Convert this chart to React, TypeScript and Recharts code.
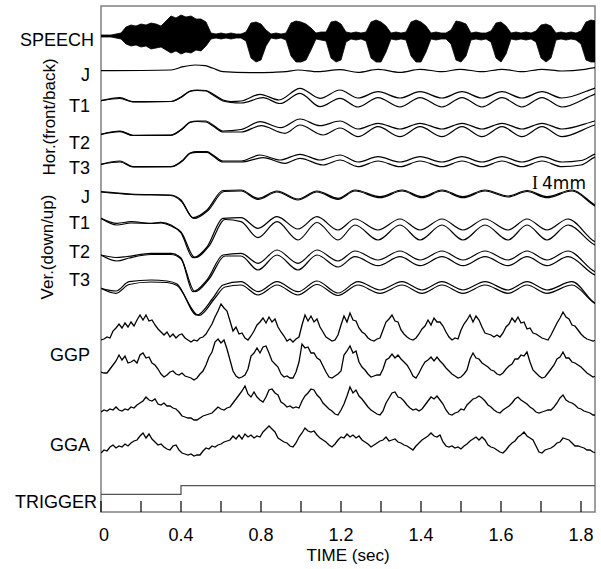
import { ComposedChart, Line, Area, XAxis, YAxis, ReferenceArea } from 'recharts';

// time axis (ms); labels copied as printed on the figure
const T_MAX = 2470;
const TICK_TIMES = [0, 200, 400, 600, 800, 1000, 1200, 1400, 1600, 1800, 2000, 2200, 2400];
const TICK_LABELS = ['0', '', '0.4', '', '0.8', '', '1.2', '', '1.4', '', '1.6', '', '1.8'];

const CHANNEL_NAMES = ['SPEECH', 'J', 'T1', 'T2', 'T3', 'J', 'T1', 'T2', 'T3', 'GGP', 'GGA', 'TRIGGER'];

// speech envelope, 25 ms steps (amplitude above / below the trace centre)
const SPEECH_STEP = 25;
const SPEECH_UP = [
  1, 1, 1, 2, 3, 9, 11, 10, 12, 11,
  13, 12, 10, 15, 20, 18, 21, 19, 20, 17,
  17, 14, 3, 2, 3, 2, 3, 2, 2, 4,
  13, 14, 12, 6, 2, 3, 2, 3, 13, 15,
  14, 12, 8, 3, 4, 4, 14, 15, 12, 4,
  3, 4, 3, 4, 14, 16, 14, 10, 3, 4,
  3, 4, 14, 16, 14, 10, 3, 4, 3, 3,
  6, 15, 14, 12, 3, 4, 3, 3, 5, 13,
  14, 10, 3, 4, 3, 4, 3, 5, 11, 12,
  10, 3, 4, 3, 4, 3, 5, 14, 16, 15,
];
const SPEECH_DN = [
  1, 1, 1, 2, 3, 8, 10, 9, 11, 10,
  13, 12, 11, 14, 17, 15, 18, 16, 17, 14,
  15, 10, 3, 2, 3, 2, 3, 2, 2, 5,
  22, 26, 24, 10, 2, 3, 2, 4, 20, 26,
  26, 24, 14, 3, 4, 5, 22, 26, 24, 6,
  3, 4, 3, 5, 22, 26, 26, 16, 3, 4,
  3, 4, 20, 26, 26, 16, 3, 4, 3, 3,
  8, 24, 26, 20, 4, 3, 4, 3, 6, 22,
  26, 18, 3, 4, 3, 4, 3, 6, 22, 26,
  22, 4, 3, 4, 3, 4, 8, 24, 26, 26,
];

// articulator traces: [time ms, displacement]
const HOR_J = [[0, 0.3], [350, 1], [410, 4.3], [470, 6], [520, 5.3], [560, 2.7], [610, -0.7], [745, -1.7], [860, -1.3], [925, -0.7], [985, 1], [1085, -0.7], [1195, 1.3], [1285, -1.3], [1385, 1.7], [1495, -1.3], [1595, 1.7], [1705, -0.7], [1795, 1.7], [1905, -0.7], [2005, 1.7], [2105, -0.7], [2205, 1.7], [2305, 0], [2420, 1.7], [2470, 3.3], [2500, 4.5]];

const HOR_T1_A = [[0, 0.3], [95, 3.3], [160, -0.7], [350, -0.5], [400, 4], [445, 10], [480, 11], [525, 10.5], [560, 7], [610, 1], [650, -0.5], [700, 0], [795, 6.7], [890, 1], [995, 12.7], [1095, 2.7], [1195, 11], [1285, 3], [1385, 9.3], [1495, 3], [1595, 9.3], [1705, 3], [1805, 9.3], [1905, 3], [2005, 9.3], [2105, 3], [2205, 9.3], [2305, 3], [2470, 13], [2500, 15]];
const HOR_T1_B = [[0, 0.3], [95, 2.5], [160, -0.8], [350, -0.5], [400, 3.5], [445, 9.5], [480, 10.5], [525, 10], [560, 6], [610, 0], [650, -1.5], [700, -2], [810, 3.3], [895, -2.5], [995, 7.7], [1095, -5.7], [1195, 2.7], [1285, -6], [1385, 3.3], [1495, -6], [1595, 3.3], [1705, -6], [1805, 3.3], [1905, -6], [2005, 3.3], [2105, -6], [2205, 3.3], [2305, -6], [2470, 7], [2500, 9]];

const HOR_T2_A = [[0, -0.3], [95, 3], [160, -1.3], [350, -1], [410, 6], [445, 12], [480, 13], [525, 13], [560, 9], [610, 3], [700, 4.5], [795, 12.3], [900, 6.3], [995, 15], [1095, 8.3], [1195, 13], [1285, 5], [1385, 10.7], [1495, 5], [1595, 10.7], [1705, 5], [1805, 10.7], [1905, 5], [2005, 10.7], [2105, 5], [2205, 10.7], [2305, 5], [2470, 13], [2500, 14.5]];
const HOR_T2_B = [[0, -0.3], [95, 2.3], [160, -1.5], [350, -1.3], [410, 5.5], [445, 11.5], [480, 12.5], [525, 12], [560, 8], [610, 2], [700, 2], [800, 8.3], [920, 0.7], [995, 9], [1110, -1], [1195, 6], [1285, -2.7], [1385, 7.3], [1495, -2.7], [1595, 7.3], [1705, -2.7], [1805, 7.3], [1905, -2.7], [2005, 7.3], [2105, -2.7], [2205, 7.3], [2305, -2.7], [2470, 9], [2500, 10.5]];

const HOR_T3_A = [[0, 0.7], [95, 4], [160, -1.7], [350, -1.7], [410, 5], [445, 12], [480, 13.3], [530, 13.3], [560, 10], [610, 4], [700, 4], [795, 10], [895, 5], [995, 10.7], [1095, 5], [1195, 10], [1285, 3], [1385, 8.3], [1495, 3], [1595, 8.3], [1705, 3], [1805, 8.3], [1905, 3], [2005, 8.3], [2105, 3], [2205, 8.3], [2305, 3], [2400, 4.5], [2470, 11], [2500, 13]];
const HOR_T3_B = [[0, 0.7], [95, 3], [160, -2], [350, -1.7], [410, 4.5], [445, 11.5], [480, 12.7], [530, 12.7], [560, 9], [610, 3], [700, 3], [810, 7.3], [920, 1.7], [995, 6.7], [1110, 0], [1195, 5], [1285, -1.7], [1385, 4], [1495, -1.7], [1595, 4], [1705, -1.7], [1805, 4], [1905, -1.7], [2005, 4], [2105, -1.7], [2205, 4], [2305, -1.7], [2400, 0], [2470, 8], [2500, 10]];

const VER_J_A = [[0, 0.3], [150, -2], [350, -3], [400, -8], [460, -25.7], [530, -18], [610, 1.5], [700, 2], [785, -6.3], [880, 1], [985, -7], [1080, 1], [1185, -6.3], [1270, 2], [1395, -4.7], [1505, 2], [1605, -4.7], [1705, 2], [1810, -4.7], [1920, 2], [2035, -4], [2130, 1.5], [2230, -4.7], [2355, 2], [2470, -13], [2500, -16]];
const VER_J_B = [[0, 0], [150, -2.5], [350, -3.5], [400, -9], [465, -26.5], [535, -18.5], [615, 0.5], [700, 1], [785, -7.5], [880, 0], [985, -8], [1080, 0], [1185, -7.3], [1270, 1], [1395, -5.7], [1505, 1], [1605, -5.7], [1705, 1], [1810, -5.7], [1920, 1], [2035, -5], [2130, 0.5], [2230, -5.7], [2355, 1], [2470, -14], [2500, -17]];

const VER_T1_A = [[0, 0.7], [80, -4.3], [150, -2.7], [250, -4.3], [300, -3.3], [350, -6], [400, -14], [460, -38.7], [530, -28], [610, 0.7], [700, 1.3], [785, -9.3], [880, 2.3], [985, -10], [1080, 2.3], [1185, -11], [1270, 0], [1385, -11], [1495, 0], [1595, -11], [1705, 0], [1810, -11], [1920, 0], [2035, -11], [2130, 0], [2230, -11], [2335, 0], [2470, -22.7], [2500, -25]];
const VER_T1_B = [[0, 0.7], [80, -6], [150, -4], [250, -4.5], [300, -4], [350, -7], [400, -13], [470, -38.7], [540, -27], [620, -0.5], [700, -2.7], [785, -18.7], [880, -2.7], [985, -21], [1080, -3.5], [1185, -21], [1270, -6], [1385, -21], [1495, -6], [1595, -21], [1705, -6], [1810, -21], [1920, -6], [2035, -21], [2130, -6], [2230, -21], [2335, -6], [2470, -26], [2500, -28]];

const VER_T2_A = [[0, 0], [75, -2.5], [130, -1.5], [250, 1.7], [350, 1.7], [400, -3], [460, -36.7], [530, -25], [610, 0], [700, 1.7], [785, -8.3], [880, 5], [985, -8.3], [1080, 5], [1185, -6], [1270, 4], [1385, -5], [1495, 4], [1595, -5], [1705, 4], [1810, -5], [1920, 4], [2035, -5], [2130, 4], [2230, -5], [2335, 4], [2470, -16.7], [2500, -19]];
const VER_T2_B = [[0, 0], [80, -6], [140, -3], [250, 0.5], [350, 0.5], [400, -4], [470, -36.7], [540, -24], [620, -1], [700, -1], [785, -15], [880, 0], [985, -15], [1080, 0], [1185, -12], [1270, -1.7], [1385, -10.7], [1495, -1.7], [1595, -10.7], [1705, -1.7], [1810, -10.7], [1920, -1.7], [2035, -10.7], [2130, -1.7], [2230, -10.7], [2335, -1.7], [2470, -20], [2500, -22]];

const VER_T3_A = [[0, -0.3], [75, -3], [140, 6.3], [250, 8], [330, 7], [380, 4], [480, -27], [560, -10], [610, 3], [700, 6.3], [785, -3.7], [880, 6.3], [985, -3.7], [1080, 7], [1185, -5], [1285, 6.3], [1395, -2], [1505, 6.3], [1605, -2], [1705, 6.3], [1810, -2], [1920, 6.3], [2035, -2], [2130, 6.3], [2230, -2], [2355, 6.3], [2470, -15.3], [2500, -18]];
const VER_T3_B = [[0, -0.3], [75, -5.3], [140, 3.5], [250, 6], [330, 5.5], [380, 2.5], [490, -27.5], [570, -10], [620, 1], [700, 3], [785, -7], [880, 3], [985, -7], [1080, 3.5], [1185, -7.5], [1285, 3], [1395, -5.3], [1505, 3], [1605, -5.3], [1705, 3], [1810, -5.3], [1920, 3], [2035, -5.3], [2130, 3], [2230, -5.3], [2355, 3], [2470, -15.5], [2500, -18]];

// EMG traces, 15 ms steps
const GG_STEP = 15;
const GGP_1 = [
  0, 1, 3, 2, 9, 12, 16, 12, 17, 13,
  18, 14, 20, 25, 20, 25, 19, 20, 15, 11,
  8, 5, 8, 3, 6, 2, 5, 6, 2, 0,
  -2, 0, -1, 2, 3, 6, 11, 16, 23, 29,
  36, 32, 29, 19, 9, 13, 6, 7, 2, 0,
  4, 9, 15, 18, 22, 17, 23, 18, 21, 13,
  8, 4, -1, 1, -2, 1, 3, 15, 25, 19,
  24, 18, 21, 13, 8, 3, 1, -1, 0, 5,
  15, 24, 18, 27, 20, 19, 12, 8, 6, 2,
  0, -1, 1, 2, 10, 18, 21, 25, 19, 18,
  10, 6, 3, 1, 0, 2, 6, 11, 14, 20,
  15, 22, 18, 18, 14, 8, 3, 0, 2, 1,
  10, 16, 20, 25, 18, 24, 20, 13, 7, 6,
  5, 3, 5, 3, 7, 13, 16, 22, 18, 23,
  17, 18, 11, 12, 7, 6, 4, 2, 1, 0,
  5, 11, 17, 22, 28, 23, 21, 15, 14, 10,
  6, 3, 1, 0, -1, 0,
];
const GGP_2 = [
  0, -1, -1, 3, 7, 11, 17, 12, 16, 9,
  10, 12, 9, 17, 19, 14, 15, 9, 7, 3,
  -2, -5, -3, 0, 1, -2, -3, -1, -4, -5,
  -6, -8, -6, -2, 1, 7, 15, 20, 30, 33,
  29, 32, 23, 12, 1, -4, -6, -5, -3, 3,
  16, 19, 24, 19, 25, 26, 19, 11, 8, 5,
  -2, -5, -4, -6, -6, 0, 10, 28, 24, 25,
  19, 19, 14, 12, 6, 0, -5, -6, -4, -2,
  1, 17, 21, 26, 19, 21, 10, 5, 2, -2,
  -5, -4, -3, -3, 3, 12, 14, 18, 14, 17,
  13, 10, 7, 2, -4, -6, -1, 5, 10, 12,
  15, 11, 15, 11, 8, 4, 1, -2, -4, -6,
  -5, -2, 2, 13, 19, 14, 13, 9, 7, 5,
  2, 1, -2, -3, -1, 3, 6, 8, 13, 13,
  17, 16, 20, 10, 2, -1, -4, -6, -5, -1,
  3, 7, 13, 15, 20, 14, 14, 10, 9, 7,
  5, 2, -1, -3, -5, -4,
];
const GGA_1 = [
  0, 2, 1, 3, 2, 5, 2, 1, 3, 2,
  5, 4, 7, 9, 11, 15, 12, 11, 13, 8,
  7, 9, 6, 6, 4, 3, 0, -4, -5, -6,
  -6, -8, -8, -6, -4, -3, -2, -1, 2, 5,
  3, 2, 4, 5, 9, 13, 17, 21, 26, 18,
  15, 20, 15, 12, 10, 15, 22, 23, 19, 17,
  10, 8, 5, 6, 4, 5, 4, 11, 16, 19,
  23, 22, 17, 14, 9, 6, 3, 1, -2, -3,
  2, 8, 16, 25, 19, 22, 16, 13, 9, 5,
  2, 0, -2, -3, 1, 9, 14, 19, 20, 15,
  14, 11, 7, 4, 2, 3, 1, 3, 7, 11,
  15, 13, 16, 12, 8, 2, -2, -3, -1, 0,
  3, 2, 7, 10, 13, 14, 16, 14, 11, 7,
  5, 2, 0, -1, 2, 4, 6, 9, 13, 15,
  12, 10, 8, 5, 3, 0, -1, 0, 1, 2,
  2, 5, 9, 14, 17, 12, 10, 9, 7, 4,
  3, 1, 0, -1, -3, -3,
];
const GGA_2 = [
  0, 3, 2, 6, 8, 5, 7, 6, 9, 7,
  10, 12, 13, 17, 20, 15, 19, 14, 11, 8,
  9, 6, 4, 3, 7, 8, 3, 0, -1, -2,
  -1, -3, -2, -2, 2, 5, 4, 7, 6, 8,
  9, 11, 12, 13, 17, 14, 18, 14, 19, 16,
  18, 15, 17, 16, 21, 24, 27, 24, 21, 15,
  13, 11, 10, 7, 6, 10, 16, 20, 25, 22,
  21, 22, 18, 15, 13, 11, 8, 6, 9, 13,
  16, 15, 19, 16, 18, 15, 17, 13, 11, 9,
  6, 8, 10, 12, 13, 16, 12, 13, 14, 11,
  10, 8, 7, 5, 3, 7, 10, 13, 15, 17,
  20, 17, 16, 18, 11, 7, 6, 7, 5, 6,
  4, 7, 9, 12, 14, 16, 13, 16, 13, 8,
  6, 5, 3, 1, 0, 3, 7, 10, 12, 16,
  18, 21, 17, 15, 13, 7, 1, 0, 3, 4,
  5, 7, 10, 11, 15, 14, 13, 10, 7, 7,
  6, 5, 3, 3, 1, 0,
];

const TRIGGER = [[0, 0], [400, 0], [400, 1], [2470, 1]];

// ---- layout ----
const W = 601;
const H = 569;
const LEFT = 101;
const TOP = 6;
const RIGHT = 6;
const X_AXIS_H = 57;
const PLOT_BOTTOM = H - X_AXIS_H;
const Y_MAX = PLOT_BOTTOM - TOP;
const FONT = '"Liberation Sans", Arial, Helvetica, sans-serif';
const FS = 18;

// vertical position of each trace's rest level (chart units, from bottom)
const OFF = {
  speech: 476, horJ: 441, horT1: 411, horT2: 378, horT3: 347,
  verJ: 320, verT1: 293, verT2: 257, verT3: 224,
  ggp1: 172, ggp2: 140, gga1: 100, gga2: 59, trig: 17.7,
};
const TRIG_GAIN = 8.6;
const LABEL_POS = [472, 437, 406, 369, 344, 315, 289, 260, 232, 157, 67, 10];

const keyRows = (pts: number[][], off: number) => pts.map(([t, d]) => ({ t, v: off + d }));
const gridRows = (vals: number[], step: number, off: number) => vals.map((d, k) => ({ t: k * step, v: off + d }));

const speechRows = SPEECH_UP.map((u, i) => ({
  t: i * SPEECH_STEP,
  band: [OFF.speech - SPEECH_DN[i], OFF.speech + u],
}));

const smoothTraces = [
  keyRows(HOR_J, OFF.horJ),
  keyRows(HOR_T1_A, OFF.horT1), keyRows(HOR_T1_B, OFF.horT1),
  keyRows(HOR_T2_A, OFF.horT2), keyRows(HOR_T2_B, OFF.horT2),
  keyRows(HOR_T3_A, OFF.horT3), keyRows(HOR_T3_B, OFF.horT3),
  keyRows(VER_J_A, OFF.verJ), keyRows(VER_J_B, OFF.verJ),
  keyRows(VER_T1_A, OFF.verT1), keyRows(VER_T1_B, OFF.verT1),
  keyRows(VER_T2_A, OFF.verT2), keyRows(VER_T2_B, OFF.verT2),
  keyRows(VER_T3_A, OFF.verT3), keyRows(VER_T3_B, OFF.verT3),
];

const emgTraces = [
  gridRows(GGP_1, GG_STEP, OFF.ggp1),
  gridRows(GGP_2, GG_STEP, OFF.ggp2),
  gridRows(GGA_1, GG_STEP, OFF.gga1),
  gridRows(GGA_2, GG_STEP, OFF.gga2),
];

const triggerRows = TRIGGER.map(([t, s]) => ({ t, v: OFF.trig + s * TRIG_GAIN }));

function TimeTick({ x, payload, index }: any) {
  const label = TICK_LABELS[index] ?? '';
  return (
    <g>
      <line x1={x} x2={x} y1={PLOT_BOTTOM} y2={PLOT_BOTTOM - 11} stroke="#000" strokeWidth={1.2} />
      {label && (
        <text x={x + (payload.value === 0 ? 3 : 0)} y={PLOT_BOTTOM + 29} textAnchor="middle" fontSize={FS} fill="#000">
          {label}
        </text>
      )}
    </g>
  );
}

function ChannelTick({ x, y, payload }: any) {
  const i = LABEL_POS.indexOf(payload.value);
  const name = CHANNEL_NAMES[i] ?? '';
  const dx = name === 'TRIGGER' ? 7 : name === 'SPEECH' ? 4 : 0;
  return (
    <text x={x + dx} y={y} dy="0.36em" textAnchor="end" fontSize={FS} fill="#000">
      {name}
    </text>
  );
}

export default function App() {
  return (
    <div style={{ position: 'absolute', left: 0, top: 0, width: W, height: H, background: '#fff', fontFamily: FONT }}>
      <ComposedChart width={W} height={H} data={speechRows} margin={{ top: TOP, right: RIGHT, bottom: 0, left: 0 }}>
        <XAxis
          type="number"
          dataKey="t"
          domain={[0, T_MAX]}
          ticks={TICK_TIMES}
          interval={0}
          tick={TimeTick}
          tickLine={false}
          tickSize={0}
          axisLine={false}
          height={X_AXIS_H}
          allowDataOverflow
          label={{ value: 'TIME (sec)', position: 'insideBottom', offset: 8, fontSize: 17, fill: '#000' }}
        />
        <YAxis
          type="number"
          domain={[0, Y_MAX]}
          ticks={LABEL_POS}
          interval={0}
          tick={ChannelTick}
          tickLine={false}
          tickSize={0}
          tickMargin={11}
          axisLine={false}
          width={LEFT}
          allowDataOverflow
        />
        <ReferenceArea x1={0} x2={T_MAX} y1={0} y2={Y_MAX} fill="none" stroke="#808080" strokeWidth={1.5} ifOverflow="visible" />
        <Area
          dataKey="band"
          type="linear"
          fill="#000"
          fillOpacity={1}
          stroke="#000"
          strokeWidth={0.8}
          isAnimationActive={false}
        />
        {smoothTraces.map((rows, i) => (
          <Line
            key={`s${i}`}
            data={rows}
            dataKey="v"
            type="monotone"
            dot={false}
            stroke="#000"
            strokeWidth={1.2}
            isAnimationActive={false}
          />
        ))}
        {emgTraces.map((rows, i) => (
          <Line
            key={`g${i}`}
            data={rows}
            dataKey="v"
            type="linear"
            dot={false}
            stroke="#000"
            strokeWidth={1.3}
            isAnimationActive={false}
          />
        ))}
        <Line data={triggerRows} dataKey="v" type="linear" dot={false} stroke="#555" strokeWidth={1.3} isAnimationActive={false} />
      </ComposedChart>
      <div style={{ position: 'absolute', left: 50, top: 117, transform: 'translate(-50%, -50%) rotate(-90deg)', whiteSpace: 'nowrap', fontSize: 17 }}>
        Hor.(front/back)
      </div>
      <div style={{ position: 'absolute', left: 48, top: 247, transform: 'translate(-50%, -50%) rotate(-90deg)', whiteSpace: 'nowrap', fontSize: 17 }}>
        Ver.(down/up)
      </div>
      <div style={{ position: 'absolute', left: 532, top: 174, whiteSpace: 'nowrap', lineHeight: 1 }}>
        <span style={{ fontFamily: '"Liberation Serif", serif', fontSize: 18 }}>I</span>
        <span style={{ fontFamily: '"DejaVu Sans", sans-serif', fontSize: 17, marginLeft: 4 }}>4mm</span>
      </div>
    </div>
  );
}
